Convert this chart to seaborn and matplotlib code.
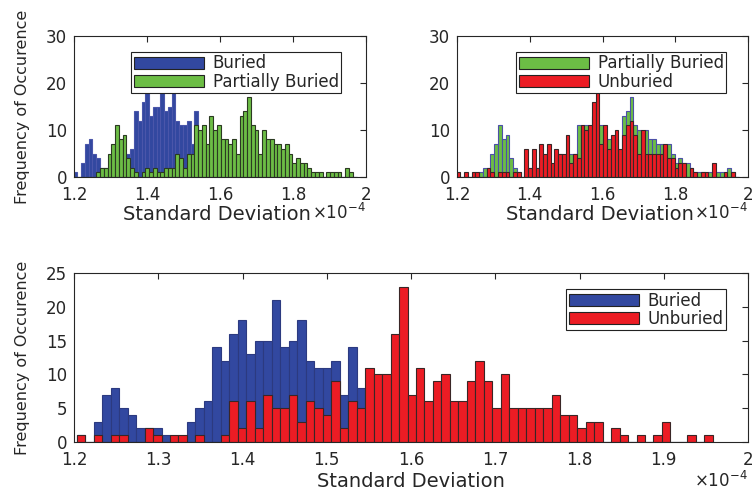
import numpy as np
import pandas as pd
import matplotlib
matplotlib.use("Agg")
import matplotlib.pyplot as plt
import seaborn as sns
from matplotlib.patches import Patch
from matplotlib.ticker import FuncFormatter

# ---------------- data (standard deviation in units of 1e-4) ----------------
# bottom panel: 75 bins between these limits
bottom_range = (1.2032, 1.9583)
# top panels: 75 bins between these limits
top_range = (1.199, 1.974)
n_bins = 75

buried = [1, 0, 3, 7, 8, 5, 4, 2, 2, 2, 1, 0, 0, 3, 5, 6, 14, 12, 16, 18,
          13, 15, 15, 21, 14, 15, 18, 12, 11, 11, 12, 7, 14, 8] + [0] * 41

unburied_bottom = [1, 0, 1, 0, 1, 1, 0, 0, 2, 1,
                   0, 1, 1, 0, 1, 0, 0, 1, 6, 2,
                   6, 2, 7, 5, 5, 7, 3, 6, 5, 4,
                   9, 2, 6, 5, 11, 10, 10, 16, 23, 7,
                   11, 6, 9, 10, 6, 6, 9, 12, 9, 5,
                   10, 5, 5, 5, 5, 5, 7, 4, 4, 2,
                   3, 3, 0, 2, 1, 0, 1, 0, 1, 3,
                   0, 0, 1, 0, 1]

partially_buried = [0, 0, 0, 0, 0, 0, 1, 2, 2, 5,
                    7, 11, 8, 9, 4, 2, 1, 0, 1, 2,
                    1, 2, 1, 1, 2, 2, 2, 5, 4, 2,
                    5, 5, 11, 10, 11, 7, 13, 10, 11, 8,
                    8, 7, 8, 5, 13, 14, 17, 11, 10, 5,
                    10, 8, 8, 7, 7, 6, 7, 5, 3, 4,
                    3, 3, 2, 1, 1, 1, 0, 1, 1, 1,
                    1, 0, 2, 1, 0]

unburied_top = [1, 0, 1, 0, 1, 1, 0, 0, 2, 1,
                0, 1, 1, 1, 0, 1, 1, 0, 6, 2,
                6, 2, 7, 5, 7, 3, 6, 5, 5, 9,
                3, 5, 4, 11, 10, 11, 16, 18, 7, 11,
                6, 9, 10, 6, 9, 11, 12, 9, 5, 10,
                5, 5, 5, 5, 5, 7, 4, 4, 2, 3,
                3, 0, 2, 1, 0, 1, 1, 0, 3, 0,
                0, 1, 0, 1, 0]

labels = ["Buried", "Partially Buried", "Unburied"]
xlabel = "Standard Deviation"
ylabel = "Frequency of Occurence"

# ---------------- style ----------------
BLUE = "#3248a0"
GREEN = "#6cbd45"
RED = "#ec1c24"
TXT = "#262626"

sns.set_theme(style="white")
plt.rcParams["font.family"] = ["DejaVu Sans"]
plt.rcParams["text.color"] = TXT
plt.rcParams["axes.labelcolor"] = TXT

fig = plt.figure(figsize=(7.56, 4.95), dpi=100)
W, H = 756.0, 495.0


def add_ax(x0, y0, x1, y1):
    return fig.add_axes([x0 / W, 1 - y1 / H, (x1 - x0) / W, (y1 - y0) / H])


ax_tl = add_ax(74, 36, 366, 177)
ax_tr = add_ax(457, 36, 748, 177)
ax_b = add_ax(74, 273, 748, 442)

bot_edges = np.linspace(bottom_range[0], bottom_range[1], n_bins + 1)
top_edges = np.linspace(top_range[0], top_range[1], n_bins + 1)


def hist(ax, edges, counts, color, edge):
    df = pd.DataFrame({"x": (edges[:-1] + edges[1:]) / 2,
                       "w": np.asarray(counts, dtype=float)})
    sns.histplot(data=df, x="x", weights="w", bins=[float(e) for e in edges],
                 ax=ax, color=color, edgecolor=edge, linewidth=0.8, alpha=1)


hist(ax_tl, top_edges, buried, BLUE, "#4a56aa")
hist(ax_tl, top_edges, partially_buried, GREEN, "#2b3a22")
hist(ax_tr, top_edges, partially_buried, GREEN, "#4c50a8")
hist(ax_tr, top_edges, unburied_top, RED, "#3a2626")
hist(ax_b, bot_edges, buried, BLUE, "#2c3a80")
hist(ax_b, bot_edges, unburied_bottom, RED, "#3a2626")

fmt = FuncFormatter(lambda v, p: f"{v:g}")

for ax, ymax, ystep, xstep in [(ax_tl, 30, 10, 0.2), (ax_tr, 30, 10, 0.2),
                               (ax_b, 25, 5, 0.1)]:
    ax.set_xlim(1.2, 2.0)
    ax.set_ylim(0, ymax)
    ax.set_xticks(np.round(np.arange(1.2, 2.0001, xstep), 2))
    ax.set_yticks(np.arange(0, ymax + 0.1, ystep))
    ax.xaxis.set_major_formatter(fmt)
    ax.yaxis.set_major_formatter(fmt)
    ax.tick_params(direction="in", top=True, right=True, length=4, width=0.8,
                   colors=TXT, labelsize=12)
    ax.tick_params(axis="x", pad=6.5)
    ax.tick_params(axis="y", pad=5)
    for s in ax.spines.values():
        s.set_visible(True)
        s.set_color(TXT)
        s.set_linewidth(0.8)
    ax.set_xlabel(xlabel, fontsize=14, color=TXT)
    ax.set_ylabel("")

ax_tl.xaxis.set_label_coords(0.49, -0.2)
ax_tr.xaxis.set_label_coords(0.49, -0.2)
ax_b.xaxis.set_label_coords(0.5, -0.175)

ax_tl.set_ylabel(ylabel, fontsize=11.5, color=TXT)
ax_tl.yaxis.set_label_coords(-0.15, 0.5)
ax_b.set_ylabel(ylabel, fontsize=11.5, color=TXT)
ax_b.yaxis.set_label_coords(-0.065, 0.5)

# multiplier texts
for xr, yb in [(366, 223), (748, 223), (748, 491)]:
    fig.text(xr / W, 1 - yb / H, r"$\times10^{-4}$", ha="right", va="bottom",
             fontsize=12, color=TXT)


def legend(ax, names, faces, x, y):
    handles = [Patch(facecolor=f, edgecolor="#222222", linewidth=0.8) for f in faces]
    lg = ax.legend(handles, names, loc="upper left", bbox_to_anchor=(x / W, 1 - y / H),
                   bbox_transform=fig.transFigure, borderaxespad=0, fontsize=12,
                   handlelength=4.25, handleheight=0.75, handletextpad=0.5,
                   labelspacing=0.02, borderpad=0.15, frameon=True, fancybox=False,
                   framealpha=1)
    lg.get_frame().set_edgecolor("#222222")
    lg.get_frame().set_linewidth(0.8)
    lg.set_zorder(10)
    for t in lg.get_texts():
        t.set_color(TXT)


legend(ax_tl, [labels[0], labels[1]], [BLUE, GREEN], 131, 52)
legend(ax_tr, [labels[1], labels[2]], [GREEN, RED], 516, 52)
legend(ax_b, [labels[0], labels[2]], [BLUE, RED], 566, 289)

fig.savefig("out.png", dpi=100, facecolor="white")
